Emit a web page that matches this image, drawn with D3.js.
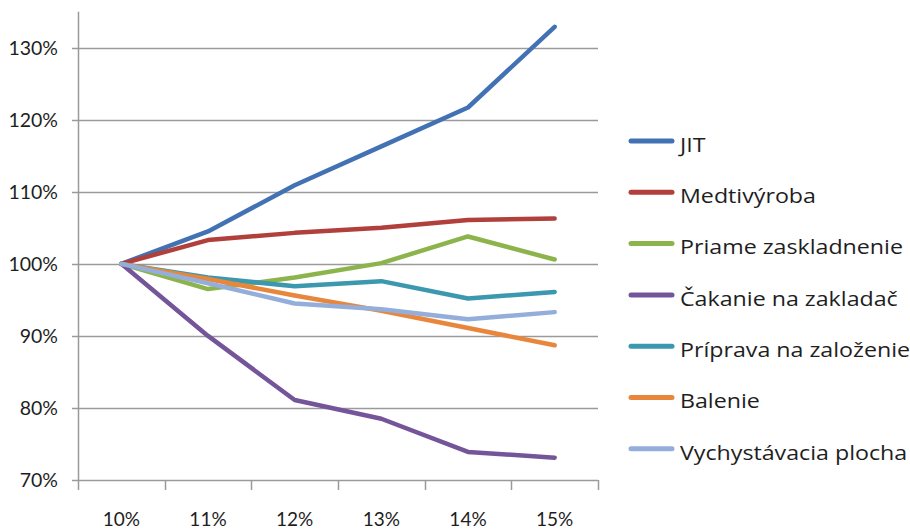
<!DOCTYPE html>
<html><head><meta charset="utf-8">
<script src="https://cdn.jsdelivr.net/npm/d3@7/dist/d3.min.js"></script>
<style>html,body{margin:0;padding:0;background:#fff;}svg{display:block;}</style>
</head><body>
<svg id="chart" width="910" height="531"></svg>
<script>
const categories = ["10%", "11%", "12%", "13%", "14%", "15%"];
const seriesNames = ["JIT", "Medtivýroba", "Priame zaskladnenie", "Čakanie na zakladač", "Príprava na založenie", "Balenie", "Vychystávacia plocha"];
const jit          = [100, 104.5, 110.9, 116.3, 121.7, 132.9];
const medtivyroba  = [100, 103.3, 104.3, 105.0, 106.1, 106.3];
const priame       = [100, 96.5, 98.1, 100.1, 103.8, 100.6];
const cakanie      = [100, 90.0, 81.1, 78.5, 73.9, 73.1];
const priprava     = [100, 98.1, 96.9, 97.6, 95.2, 96.1];
const balenie      = [100, 97.9, 95.6, 93.5, 91.1, 88.7];
const vychystavacia= [100, 97.3, 94.5, 93.7, 92.3, 93.3];
const yTicks = [70, 80, 90, 100, 110, 120, 130];
const colors = ["#4272B3", "#B13F3B", "#8DB44C", "#74559A", "#3C98AF", "#E8873C", "#93AEDA"];

const allSeries = [jit, medtivyroba, priame, cakanie, priprava, balenie, vychystavacia];

(function () {
const svg = d3.select("#chart");
const font = "Lato, 'Noto Sans', sans-serif";
const legendFont = "'Open Sans', 'Noto Sans', sans-serif";
const pLeft = 78, pRight = 598, pBottom = 480, y130 = 47.7;

const x = d3.scaleBand().domain(categories).range([pLeft, pRight]).padding(0);
const pxPer = (pBottom - y130) / 60;
const y = d3.scaleLinear().domain([70, 135]).range([pBottom, pBottom - pxPer * 65]);

svg.append("g").selectAll("line").data(yTicks).join("line")
  .attr("x1", pLeft - 6).attr("x2", pRight)
  .attr("y1", d => Math.round(y(d)) + 0.5).attr("y2", d => Math.round(y(d)) + 0.5)
  .attr("stroke", "#9a9a9a").attr("stroke-width", 1.5);

svg.append("line").attr("x1", pLeft + 0.5).attr("x2", pLeft + 0.5)
  .attr("y1", y(135)).attr("y2", pBottom + 10)
  .attr("stroke", "#9a9a9a").attr("stroke-width", 1.5);

const bounds = categories.map(c => x(c)).concat([pRight]);
svg.append("g").selectAll("line").data(bounds.slice(1)).join("line")
  .attr("x1", d => Math.round(d) + 0.5).attr("x2", d => Math.round(d) + 0.5)
  .attr("y1", pBottom).attr("y2", pBottom + 10)
  .attr("stroke", "#9a9a9a").attr("stroke-width", 1.5);

svg.append("g").selectAll("text").data(yTicks).join("text")
  .attr("x", 58).attr("y", d => y(d)).attr("dy", "0.35em")
  .attr("text-anchor", "end").attr("font-family", font).attr("font-size", 19.5)
  .attr("fill", "#1e1e1e").text(d => d + "%");

svg.append("g").selectAll("text").data(categories).join("text")
  .attr("x", d => x(d) + x.bandwidth() / 2).attr("y", 519).attr("dy", "0.35em")
  .attr("text-anchor", "middle").attr("font-family", font).attr("font-size", 19)
  .attr("fill", "#1e1e1e").text(d => d);

const line = d3.line().x((d, i) => x(categories[i]) + x.bandwidth() / 2).y(d => y(d));
svg.append("g").selectAll("path").data(allSeries).join("path")
  .attr("d", d => line(d)).attr("fill", "none")
  .attr("stroke", (d, i) => colors[i]).attr("stroke-width", 4.5)
  .attr("stroke-linejoin", "round").attr("stroke-linecap", "round");

const lg = svg.append("g").selectAll("g").data(seriesNames).join("g")
  .attr("transform", (d, i) => `translate(631, ${141 + i * 51.3})`);
lg.append("line").attr("x1", 0).attr("x2", 41).attr("y1", 0).attr("y2", 0)
  .attr("stroke", (d, i) => colors[i]).attr("stroke-width", 5).attr("stroke-linecap", "round");
lg.append("text").attr("transform", "translate(49,4) scale(1.19,1)").attr("dy", "0.35em")
  .attr("font-family", legendFont).attr("font-size", 19.5).attr("fill", "#1e1e1e").text(d => d);
})();
</script>
</body></html>
